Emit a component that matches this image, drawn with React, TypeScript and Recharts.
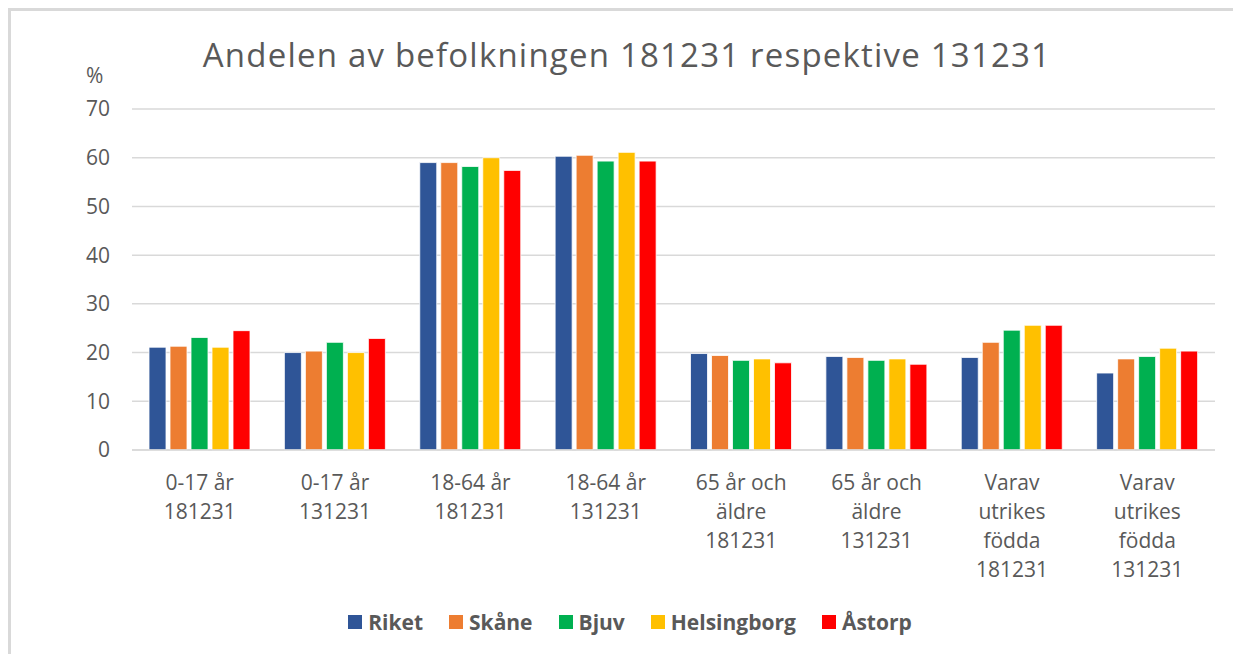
import React from 'react';
import { BarChart, Bar, XAxis, YAxis, CartesianGrid, Legend } from 'recharts';

const categories = [
  '0-17 år\n181231',
  '0-17 år\n131231',
  '18-64 år\n181231',
  '18-64 år\n131231',
  '65 år och\näldre\n181231',
  '65 år och\näldre\n131231',
  'Varav\nutrikes\nfödda\n181231',
  'Varav\nutrikes\nfödda\n131231',
];

const riket = [21.1, 20.0, 59.0, 60.3, 19.8, 19.2, 19.0, 15.8];
const skane = [21.3, 20.3, 59.0, 60.5, 19.4, 19.0, 22.1, 18.7];
const bjuv = [23.1, 22.1, 58.2, 59.3, 18.4, 18.4, 24.6, 19.2];
const helsingborg = [21.1, 20.0, 60.0, 61.1, 18.7, 18.7, 25.6, 20.9];
const astorp = [24.5, 22.9, 57.4, 59.3, 17.9, 17.6, 25.6, 20.3];

const yTicks = [0, 10, 20, 30, 40, 50, 60, 70];

const seriesDefs = [
  { key: 'Riket', values: riket, color: '#2F5597' },
  { key: 'Skåne', values: skane, color: '#ED7D31' },
  { key: 'Bjuv', values: bjuv, color: '#00B050' },
  { key: 'Helsingborg', values: helsingborg, color: '#FFC000' },
  { key: 'Åstorp', values: astorp, color: '#FF0000' },
];

const data = categories.map((c, i) => {
  const row: any = { name: c };
  seriesDefs.forEach((s) => (row[s.key] = s.values[i]));
  return row;
});

const FONT = '"Open Sans", "Noto Sans", sans-serif';
const TEXT = '#595959';

const XTick = (props: any) => {
  const { x, y, payload } = props;
  const lines = String(payload.value).split('\n');
  return (
    <text x={x} y={y} textAnchor="middle" fill={TEXT} fontSize={21} fontFamily={FONT}>
      {lines.map((l, i) => (
        <tspan key={i} x={x} dy={i === 0 ? 38 : 29}>
          {l}
        </tspan>
      ))}
    </text>
  );
};

const LegendContent = () => (
  <div style={{ display: 'flex', justifyContent: 'center', alignItems: 'center', fontFamily: FONT, fontWeight: 700, fontSize: 21, color: TEXT }}>
    {seriesDefs.map((s, i) => (
      <div key={s.key} style={{ display: 'flex', alignItems: 'center', marginRight: i === seriesDefs.length - 1 ? 0 : 26 }}>
        <span style={{ width: 14, height: 14, background: s.color, display: 'inline-block', marginRight: 6 }} />
        <span>{s.key}</span>
      </div>
    ))}
  </div>
);

export default function App() {
  return (
    <div style={{ position: 'absolute', left: 0, top: 0, width: 1233, height: 654, background: '#fff', overflow: 'hidden' }}>
      <div style={{ position: 'absolute', left: 8, top: 8, width: 1300, height: 700, borderLeft: '3px solid #d9d9d9', borderTop: '3px solid #d9d9d9' }} />
      <div style={{ position: 'absolute', left: 0, width: 1254, top: 33, textAlign: 'center', fontFamily: FONT, fontSize: 33, letterSpacing: 1.2, color: TEXT, lineHeight: '44px', whiteSpace: 'nowrap' }}>
        Andelen av befolkningen 181231 respektive 131231
      </div>
      <div style={{ position: 'absolute', left: 86, top: 60, fontFamily: FONT, fontSize: 21, color: TEXT, lineHeight: '30px' }}>%</div>
      <div style={{ position: 'absolute', left: 0, top: 0 }}>
        <BarChart
          width={1233}
          height={654}
          data={data}
          margin={{ top: 109, right: 18, bottom: 0, left: 72 }}
          barCategoryGap={17}
          barGap={4}
        >
          <CartesianGrid horizontal vertical={false} stroke="#d9d9d9" strokeWidth={1.5} />
          <XAxis
            dataKey="name"
            interval={0}
            tickLine={false}
            tickSize={0}
            axisLine={{ stroke: '#d9d9d9', strokeWidth: 1.5 }}
            tick={<XTick />}
            height={204}
          />
          <YAxis
            domain={[0, 70]}
            ticks={yTicks}
            width={60}
            axisLine={false}
            tickLine={false}
            tickSize={0}
            tickMargin={22}
            tick={{ fill: TEXT, fontSize: 21, fontFamily: FONT }}
          />
          <Legend
            verticalAlign="middle"
            align="center"
            layout="horizontal"
            content={<LegendContent />}
            wrapperStyle={{ position: 'absolute', top: 608, left: 0, width: 1260 }}
          />
          {seriesDefs.map((s) => (
            <Bar key={s.key} dataKey={s.key} fill={s.color} stroke="#ffffff" strokeWidth={0.8} isAnimationActive={false} />
          ))}
        </BarChart>
      </div>
    </div>
  );
}
